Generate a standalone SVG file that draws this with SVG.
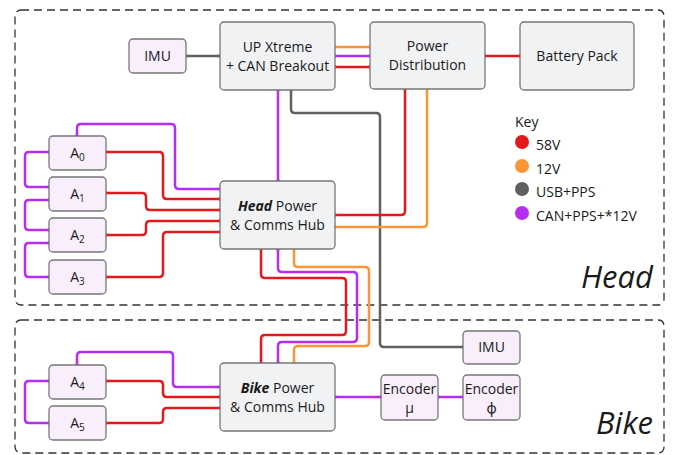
<svg xmlns="http://www.w3.org/2000/svg" width="673" height="455" viewBox="0 0 673 455">
<style>
.grp{fill:none;stroke:#333;stroke-width:1.3;stroke-dasharray:8 5}
.big{fill:#f1f2f4;stroke:#777;stroke-width:1.3}
.sm{fill:#f8eefc;stroke:#777;stroke-width:1.3}
text{font-family:"Open Sans","Noto Sans","DejaVu Sans",sans-serif;font-size:14px;fill:#1a1a1a;text-anchor:middle}
.c{fill:none;stroke-width:2.5;stroke-linejoin:round}
.r{stroke:#e3191c}
.o{stroke:#fb9638}
.g{stroke:#606060}
.p{stroke:#b52ef0}
.lbl{font-size:31px;font-style:italic;text-anchor:end}
.key{text-anchor:start}
</style>
<defs>
<marker id="mr" markerWidth="4" markerHeight="4" refX="2" refY="2" markerUnits="userSpaceOnUse"><circle cx="2" cy="2" r="1.8" fill="#e3191c"/></marker>
<marker id="mo" markerWidth="4" markerHeight="4" refX="2" refY="2" markerUnits="userSpaceOnUse"><circle cx="2" cy="2" r="1.8" fill="#fb9638"/></marker>
<marker id="mg" markerWidth="4" markerHeight="4" refX="2" refY="2" markerUnits="userSpaceOnUse"><circle cx="2" cy="2" r="1.8" fill="#606060"/></marker>
<marker id="mp" markerWidth="4" markerHeight="4" refX="2" refY="2" markerUnits="userSpaceOnUse"><circle cx="2" cy="2" r="1.8" fill="#b52ef0"/></marker>
</defs>

<g id="group-head"><rect class="grp" x="15" y="10" width="649" height="295" rx="6"/><text class="lbl" x="653" y="288">Head</text></g>
<g id="group-bike"><rect class="grp" x="15" y="320" width="649" height="133" rx="6"/><text class="lbl" x="653" y="434">Bike</text></g>

<g id="connectors">
<path class="c g" marker-start="url(#mg)" marker-end="url(#mg)" d="M186,56 H220"/>
<path class="c o" marker-start="url(#mo)" marker-end="url(#mo)" d="M335,47 H370"/>
<path class="c p" marker-start="url(#mp)" marker-end="url(#mp)" d="M335,56 H370"/>
<path class="c r" marker-start="url(#mr)" marker-end="url(#mr)" d="M335,67 H370"/>
<path class="c r" marker-start="url(#mr)" marker-end="url(#mr)" d="M485,56 H520"/>
<path class="c g" marker-start="url(#mg)" marker-end="url(#mg)" d="M291,90 V109 Q291,113 295,113 H376 Q380,113 380,117 V343 Q380,347 384,347 H463"/>
<path class="c p" marker-start="url(#mp)" marker-end="url(#mp)" d="M278,90 V181"/>
<path class="c r" marker-start="url(#mr)" marker-end="url(#mr)" d="M405,89 V211 Q405,215 401,215 H335"/>
<path class="c o" marker-start="url(#mo)" marker-end="url(#mo)" d="M427,89 V223 Q427,227 423,227 H335"/>

<path class="c p" marker-start="url(#mp)" marker-end="url(#mp)" d="M77,136 V128 Q77,124 81,124 H171 Q175,124 175,128 V185 Q175,189 179,189 H220"/>
<path class="c r" marker-start="url(#mr)" marker-end="url(#mr)" d="M106,152 H159 Q163,152 163,156 V195 Q163,199 167,199 H220"/>
<path class="c r" marker-start="url(#mr)" marker-end="url(#mr)" d="M106,193 H142 Q146,193 146,197 V206 Q146,210 150,210 H220"/>
<path class="c r" marker-start="url(#mr)" marker-end="url(#mr)" d="M106,235 H142 Q146,235 146,231 V225 Q146,221 150,221 H220"/>
<path class="c r" marker-start="url(#mr)" marker-end="url(#mr)" d="M106,277 H159 Q163,277 163,273 V236 Q163,232 167,232 H220"/>
<path class="c p" marker-start="url(#mp)" marker-end="url(#mp)" d="M49,152 H29 Q25,152 25,156 V183 Q25,187 29,187 H49"/>
<path class="c p" marker-start="url(#mp)" marker-end="url(#mp)" d="M49,200 H29 Q25,200 25,204 V226 Q25,230 29,230 H49"/>
<path class="c p" marker-start="url(#mp)" marker-end="url(#mp)" d="M49,243 H29 Q25,243 25,247 V273 Q25,277 29,277 H49"/>

<path class="c r" marker-start="url(#mr)" marker-end="url(#mr)" d="M261,249 V274 Q261,278 265,278 H342 Q346,278 346,282 V331 Q346,335 342,335 H265 Q261,335 261,339 V363"/>
<path class="c p" marker-start="url(#mp)" marker-end="url(#mp)" d="M278,249 V268 Q278,272 282,272 H353 Q357,272 357,276 V338 Q357,342 353,342 H282 Q278,342 278,346 V363"/>
<path class="c o" marker-start="url(#mo)" marker-end="url(#mo)" d="M294,249 V263 Q294,267 298,267 H365 Q369,267 369,271 V342 Q369,346 365,346 H298 Q294,346 294,350 V363"/>

<path class="c p" marker-start="url(#mp)" marker-end="url(#mp)" d="M77,365 V356 Q77,352 81,352 H169 Q173,352 173,356 V383 Q173,387 177,387 H220"/>
<path class="c r" marker-start="url(#mr)" marker-end="url(#mr)" d="M106,381 H159 Q163,381 163,385 V393 Q163,397 167,397 H220"/>
<path class="c r" marker-start="url(#mr)" marker-end="url(#mr)" d="M106,423 H159 Q163,423 163,419 V412 Q163,408 167,408 H220"/>
<path class="c p" marker-start="url(#mp)" marker-end="url(#mp)" d="M49,381 H29 Q25,381 25,385 V419 Q25,423 29,423 H49"/>
<path class="c p" marker-start="url(#mp)" marker-end="url(#mp)" d="M335,397 H381"/>
<path class="c p" marker-start="url(#mp)" marker-end="url(#mp)" d="M438,397 H463"/>
</g>

<g id="imu-head"><rect class="sm" x="129" y="39" width="57" height="34" rx="4"/><text x="157.5" y="61">IMU</text></g>
<g id="up-xtreme"><rect class="big" x="220" y="22" width="115" height="68" rx="4"/><text x="277.5" y="52">UP Xtreme</text><text x="277.5" y="71">+ CAN Breakout</text></g>
<g id="power-distribution"><rect class="big" x="370" y="22" width="115" height="67" rx="4"/><text x="427.5" y="51">Power</text><text x="427.5" y="70">Distribution</text></g>
<g id="battery-pack"><rect class="big" x="520" y="22" width="114" height="68" rx="4"/><text x="577" y="61">Battery Pack</text></g>
<g id="head-hub"><rect class="big" x="220" y="181" width="115" height="68" rx="4"/><text x="277.5" y="211"><tspan font-weight="bold" font-style="italic">Head</tspan> Power</text><text x="277.5" y="230">&amp; Comms Hub</text></g>
<g id="a0"><rect class="sm" x="49" y="136" width="57" height="34" rx="4"/><text x="77.5" y="158">A<tspan font-size="10" dy="3">0</tspan></text></g>
<g id="a1"><rect class="sm" x="49" y="177" width="57" height="34" rx="4"/><text x="77.5" y="199">A<tspan font-size="10" dy="3">1</tspan></text></g>
<g id="a2"><rect class="sm" x="49" y="218" width="57" height="34" rx="4"/><text x="77.5" y="240">A<tspan font-size="10" dy="3">2</tspan></text></g>
<g id="a3"><rect class="sm" x="49" y="260" width="57" height="34" rx="4"/><text x="77.5" y="282">A<tspan font-size="10" dy="3">3</tspan></text></g>

<g id="key">
<text class="key" x="515" y="127">Key</text>
<circle cx="522" cy="142" r="7" fill="#e3191c"/><text class="key" x="536" y="150">58V</text>
<circle cx="522" cy="166" r="7" fill="#fb9638"/><text class="key" x="536" y="174">12V</text>
<circle cx="522" cy="189" r="7" fill="#606060"/><text class="key" x="536" y="197">USB+PPS</text>
<circle cx="522" cy="213" r="7" fill="#b52ef0"/><text class="key" x="536" y="221">CAN+PPS+*12V</text>
</g>

<g id="imu-bike"><rect class="sm" x="463" y="331" width="57" height="33" rx="4"/><text x="491.5" y="352">IMU</text></g>
<g id="bike-hub"><rect class="big" x="220" y="363" width="115" height="68" rx="4"/><text x="277.5" y="393"><tspan font-weight="bold" font-style="italic">Bike</tspan> Power</text><text x="277.5" y="412">&amp; Comms Hub</text></g>
<g id="encoder-mu"><rect class="sm" x="381" y="375" width="57" height="45" rx="4"/><text x="409.5" y="394">Encoder</text><text x="409.5" y="413">μ</text></g>
<g id="encoder-phi"><rect class="sm" x="463" y="375" width="57" height="45" rx="4"/><text x="491.5" y="394">Encoder</text><text x="491.5" y="413">ϕ</text></g>
<g id="a4"><rect class="sm" x="49" y="365" width="57" height="34" rx="4"/><text x="77.5" y="387">A<tspan font-size="10" dy="3">4</tspan></text></g>
<g id="a5"><rect class="sm" x="49" y="406" width="57" height="34" rx="4"/><text x="77.5" y="428">A<tspan font-size="10" dy="3">5</tspan></text></g>
</svg>
